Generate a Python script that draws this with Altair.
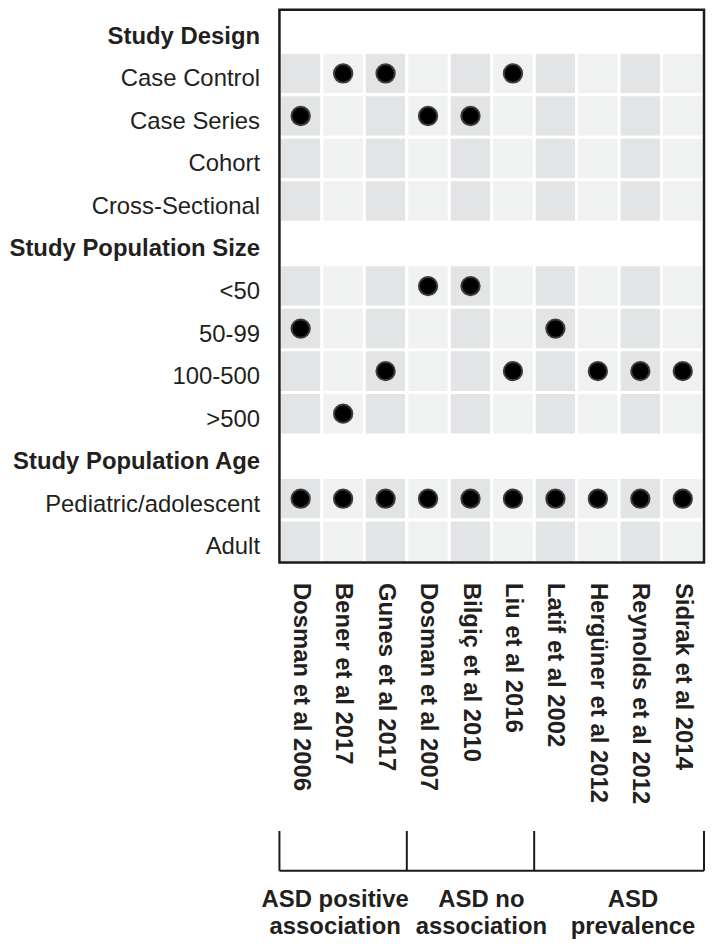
import altair as alt
import pandas as pd

# ---------------- data ----------------
studies = ["Dosman et al 2006", "Bener et al 2017", "Gunes et al 2017",
           "Dosman et al 2007", "Bilgiç et al 2010", "Liu et al 2016",
           "Latif et al 2002", "Hergüner et al 2012", "Reynolds et al 2012",
           "Sidrak et al 2014"]
group_names = ["ASD positive\nassociation", "ASD no\nassociation", "ASD\nprevalence"]
group_sizes = [3, 3, 4]

section_titles = ["Study Design", "Study Population Size", "Study Population Age"]
design_options = ["Case Control", "Case Series", "Cohort", "Cross-Sectional"]
size_options = ["<50", "50-99", "100-500", ">500"]
age_options = ["Pediatric/adolescent", "Adult"]

study_design = ["Case Series", "Case Control", "Case Control", "Case Series", "Case Series",
                "Case Control", None, None, None, None]
population_size = ["50-99", ">500", "100-500", "<50", "<50", "100-500", "50-99",
                   "100-500", "100-500", "100-500"]
population_age = ["Pediatric/adolescent"] * 10

row_order = ([section_titles[0]] + design_options + [section_titles[1]] + size_options
             + [section_titles[2]] + age_options)
option_rows = design_options + size_options + age_options

# ---------------- tables ----------------
cells = pd.DataFrame([
    {"study": s, "row": r, "shade": "dark" if i % 2 == 0 else "light"}
    for i, s in enumerate(studies) for r in option_rows
])
dots = pd.DataFrame([
    {"study": s, "row": v}
    for i, s in enumerate(studies)
    for v in (study_design[i], population_size[i], population_age[i]) if v is not None
])

bounds = [0]
for n in group_sizes:
    bounds.append(bounds[-1] + n)
bounds_df = pd.DataFrame({"b": bounds})
hline_df = pd.DataFrame({"s": [bounds[0]], "e": [bounds[-1]]})

TXT = "#231f20"
FONT = "Liberation Sans"

x_enc = alt.X("study:N", sort=studies,
              scale=alt.Scale(domain=studies, paddingInner=0, paddingOuter=0),
              axis=alt.Axis(title=None, orient="bottom", labelAngle=90, labelFontSize=24,
                            labelFontWeight="bold", labelPadding=20, ticks=False,
                            domain=False, labelLimit=400, labelColor=TXT, labelFont=FONT))
y_enc = alt.Y("row:N", sort=row_order,
              scale=alt.Scale(domain=row_order, paddingInner=0, paddingOuter=0),
              axis=alt.Axis(title=None, labelFontSize=24, labelPadding=20, ticks=False,
                            domain=False, labelLimit=400, labelColor=TXT, labelFont=FONT,
                            labelOffset=6,
                            labelFontWeight={
                                "condition": {
                                    "test": "indexof(['Study Design','Study Population Size','Study Population Age'], datum.value) >= 0",
                                    "value": "bold"},
                                "value": "normal"}))

rects = alt.Chart(cells).mark_rect(stroke="white", strokeWidth=3).encode(
    x=x_enc, y=y_enc,
    color=alt.Color("shade:N", scale=alt.Scale(domain=["dark", "light"],
                                                range=["#e3e4e5", "#f0f1f1"]), legend=None),
)
points = alt.Chart(dots).mark_circle(size=340, color="black", stroke="#3c3c3c",
                                     strokeWidth=2, opacity=1).encode(
    x=alt.X("study:N", sort=studies), y=alt.Y("row:N", sort=row_order))

frame = alt.Chart(pd.DataFrame({"f": [0]})).mark_rect(
    fill="transparent", stroke="#1a1a1a", strokeWidth=2.5).encode(
    x=alt.value(0), x2=alt.value("width"), y=alt.value(0), y2=alt.value("height"))

top = alt.layer(rects, points, frame).properties(width=427, height=556)

xq = alt.Scale(domain=[bounds[0], bounds[-1]], nice=False, zero=False)
vrules = alt.Chart(bounds_df).mark_rule(color="#1a1a1a", strokeWidth=2).encode(
    x=alt.X("b:Q", scale=xq, axis=None), y=alt.value(0), y2=alt.value(40))
hrule = alt.Chart(hline_df).mark_rule(color="#1a1a1a", strokeWidth=2).encode(
    x=alt.X("s:Q", scale=xq, axis=None), x2="e:Q", y=alt.value(40))

# group captions: centred under their bracket, with a small hand nudge as in the figure
label_nudge = [-8, 11, 14]
label_layers = []
for i, name in enumerate(group_names):
    gdf = pd.DataFrame({"label": [name], "c": [(bounds[i] + bounds[i + 1]) / 2]})
    label_layers.append(
        alt.Chart(gdf).mark_text(fontSize=24, fontWeight="bold", font=FONT,
                                 lineBreak="\n", lineHeight=28, baseline="middle",
                                 align="center", color=TXT, dx=label_nudge[i]).encode(
            x=alt.X("c:Q", scale=xq, axis=None), y=alt.value(69), text="label:N"))

bottom = alt.layer(vrules, hrule, *label_layers).properties(width=427, height=100)

chart = alt.vconcat(top, bottom, spacing=24).configure(
    font=FONT).configure_view(stroke="transparent").properties(
    padding={"top": -3, "left": 0, "right": 0, "bottom": 0})

chart.save("out.html", embed_options={"renderer": "svg", "actions": False})
